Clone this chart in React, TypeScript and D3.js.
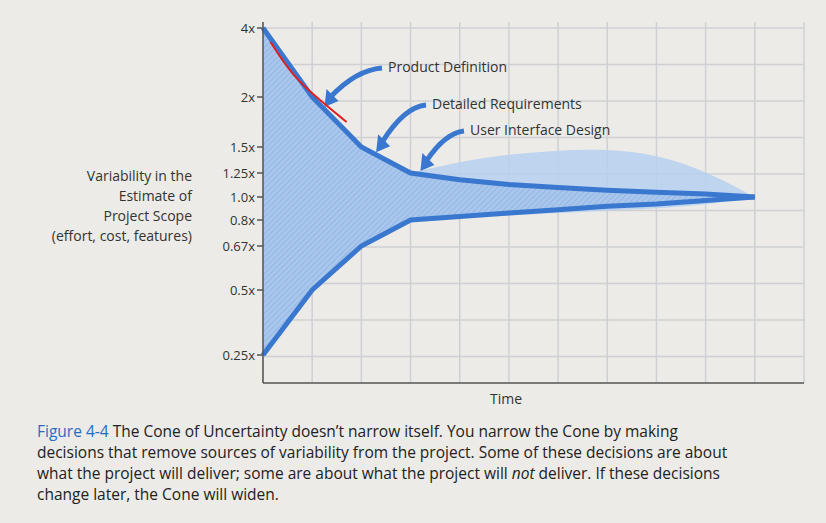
import React from "react";
import * as d3 from "d3";

const tickValues = [0.25, 0.5, 0.67, 0.8, 1.0, 1.25, 1.5, 2, 4];
const tickLabels = ["0.25x", "0.5x", "0.67x", "0.8x", "1.0x", "1.25x", "1.5x", "2x", "4x"];
const tickPixels = [355, 290, 246, 220, 197, 173, 147, 97, 28];
const times = [0, 1, 2, 3, 4, 5, 6, 7, 8, 9, 10];
const upper = [4, 2, 1.5, 1.25, 1.18, 1.13, 1.1, 1.07, 1.05, 1.03, 1.0];
const lower = [0.25, 0.5, 0.67, 0.8, 0.83, 0.86, 0.89, 0.92, 0.94, 0.97, 1.0];
const bulgeTimes = [3, 4, 5, 6, 7, 8, 9, 10];
const bulgeUpper = [1.25, 1.36, 1.43, 1.47, 1.48, 1.43, 1.27, 1.0];
const bulgeLower = [0.8, 0.82, 0.84, 0.86, 0.88, 0.9, 0.93, 1.0];
const redT = [0.15, 0.6, 1.2, 1.7];
const redV = [3.6, 2.6, 1.95, 1.75];
const annotations = [
  { text: "Product Definition", t: 1.25, v: 1.9, lx: 388, ly: 72 },
  { text: "Detailed Requirements", t: 2.3, v: 1.45, lx: 432, ly: 109 },
  { text: "User Interface Design", t: 3.2, v: 1.27, lx: 470, ly: 135 },
];

export default function App() {
  const x = d3.scaleLinear().domain([0, 11]).range([263, 804]);
  const y = d3.scaleLinear().domain(tickValues).range(tickPixels);
  const line = d3.line<number>().x((_, i) => x(times[i])).y((d) => y(d)).curve(d3.curveLinear);
  const area = d3.area<number>().x((_, i) => x(times[i])).y0((_, i) => y(lower[i])).y1((d) => y(d));
  const barea = d3.area<number>().x((_, i) => x(bulgeTimes[i])).y0((_, i) => y(bulgeLower[i])).y1((d) => y(d)).curve(d3.curveBasis);
  const red = d3.line<number>().x((d) => x(d)).y((_, i) => y(redV[i])).curve(d3.curveBasis);
  const font = "'Open Sans', 'Noto Sans', sans-serif";
  const hLines = d3.range(28, 384, 36.5);
  return (
    <svg width={826} height={523} style={{ position: "absolute", left: 0, top: 0, background: "#ecebe7" }} fontFamily={font}>
      <defs>
        <pattern id="hatch" width="4" height="4" patternUnits="userSpaceOnUse" patternTransform="rotate(45)">
          <rect width="4" height="4" fill="#a9c6ec" />
          <line x1="0" y1="0" x2="0" y2="4" stroke="#8fb2e2" strokeWidth="1.5" />
        </pattern>
      </defs>
      {times.concat([11]).map((t) => (
        <line key={"v" + t} x1={x(t)} x2={x(t)} y1={22} y2={383} stroke="#cfd0d3" strokeWidth={1.5} />
      ))}
      {hLines.map((h) => (
        <line key={"h" + h} x1={263} x2={804} y1={h} y2={h} stroke="#cfd0d3" strokeWidth={1.5} />
      ))}
      <path d={barea(bulgeUpper) || ""} fill="#b7d0f0" opacity={0.85} />
      <path d={area(upper) || ""} fill="url(#hatch)" />
      <path d={line(upper) || ""} fill="none" stroke="#3a78cf" strokeWidth={5} />
      <path d={line(lower) || ""} fill="none" stroke="#3a78cf" strokeWidth={5} />
      <line x1={263} x2={263} y1={22} y2={383} stroke="#555" strokeWidth={1.5} />
      <line x1={263} x2={804} y1={383} y2={383} stroke="#555" strokeWidth={1.5} />
      {tickValues.map((v, i) => (
        <g key={v}>
          <line x1={257} x2={263} y1={y(v)} y2={y(v)} stroke="#555" strokeWidth={1.5} />
          <text x={255} y={y(v) + 4.5} textAnchor="end" fontSize={13} fill="#333">{tickLabels[i]}</text>
        </g>
      ))}
      <text x={192} y={181} textAnchor="end" fontSize={14} fill="#333">Variability in the</text>
      <text x={192} y={201} textAnchor="end" fontSize={14} fill="#333">Estimate of</text>
      <text x={192} y={221} textAnchor="end" fontSize={14} fill="#333">Project Scope</text>
      <text x={192} y={241} textAnchor="end" fontSize={14} fill="#333">(effort, cost, features)</text>
      <text x={506} y={404} textAnchor="middle" fontSize={14} fill="#333">Time</text>
      {annotations.map((a) => {
        const tx = x(a.t), ty = y(a.v);
        return (
          <g key={a.text}>
            <path d={`M${a.lx - 6},${a.ly - 4} Q${(a.lx + tx) / 2},${a.ly - 2} ${tx + 6},${ty - 10}`} fill="none" stroke="#3a78cf" strokeWidth={5} />
            <path d={`M${tx},${ty} l2,-18 l12,12 z`} fill="#3a78cf" />
            <text x={a.lx} y={a.ly} fontSize={14} fill="#333">{a.text}</text>
          </g>
        );
      })}
      <path d={red(redT) || ""} fill="none" stroke="#e02020" strokeWidth={2} />
      <text x={37} y={437} fontSize={15.5} fill="#222">
        <tspan fill="#2a6bc0">Figure 4-4</tspan>  The Cone of Uncertainty doesn’t narrow itself. You narrow the Cone by making
      </text>
      <text x={37} y={458} fontSize={15.5} fill="#222">decisions that remove sources of variability from the project. Some of these decisions are about</text>
      <text x={37} y={479} fontSize={15.5} fill="#222">what the project will deliver; some are about what the project will <tspan fontStyle="italic">not</tspan> deliver. If these decisions</text>
      <text x={37} y={500} fontSize={15.5} fill="#222">change later, the Cone will widen.</text>
    </svg>
  );
}
